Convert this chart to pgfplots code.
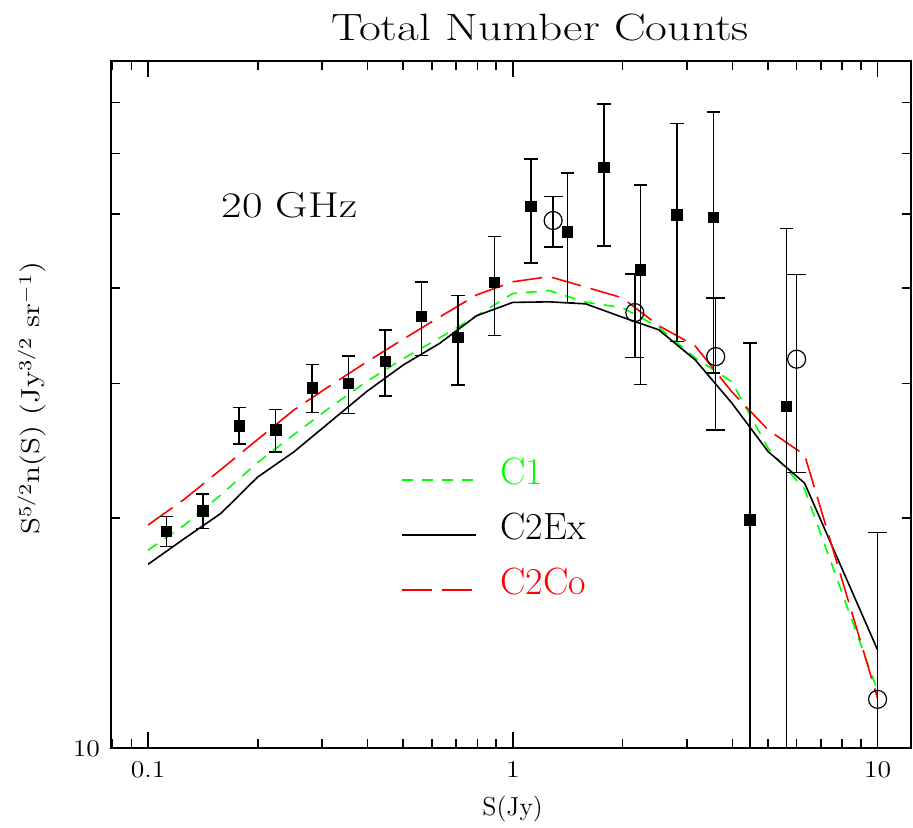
\documentclass[border=0pt]{standalone}
\usepackage{fontspec}
\usepackage{graphicx}
\usepackage{pgfplots}
\pgfplotsset{compat=1.18}
\newcommand{\tl}[1]{\mbox{\fontsize{12}{14}\selectfont\scalebox{1.15}[1]{#1}}}
\pgfplotstableread{
S N ep em
0.1122 19.21 0.89 0.85
0.1413 20.46 1.05 1.08
0.1778 26.42 1.50 1.40
0.2239 26.10 1.68 1.68
0.2818 29.62 2.16 2.12
0.3548 30.01 2.59 2.59
0.4467 32.06 3.22 3.14
0.5623 36.72 4.02 4.06
0.7079 34.46 4.67 4.59
0.8913 40.74 5.99 6.06
1.122 51.16 7.91 8.03
1.413 47.41 9.16 9.10
1.778 57.54 12.10 12.10
2.239 42.27 12.35 12.35
2.818 49.89 15.80 15.80
3.548 49.49 18.50 18.50
4.467 19.90 14.00 14.00
5.623 28.00 19.84 19.84
}\squares
\pgfplotstableread{
S N ep em
1.29 49.05 3.67 3.74
2.16 37.17 4.60 4.72
3.60 32.55 6.27 6.45
6.00 32.30 9.35 9.35
10.0 11.59 7.56 7.56
}\circles
\pgfplotstableread{
S C1 C2Ex C2Co
0.1000 18.17 17.41 19.60
0.1259 19.60 18.82 21.19
0.1585 21.47 20.30 23.17
0.1995 23.64 22.63 25.34
0.2512 25.74 24.43 27.72
0.3162 27.95 26.76 29.84
0.3981 30.21 29.31 32.04
0.5012 32.36 31.75 34.32
0.6310 34.45 33.89 36.69
0.7943 36.78 36.80 39.19
1.0000 39.37 38.33 40.78
1.2589 39.72 38.39 41.42
1.5849 38.34 38.16 40.13
1.9953 37.73 36.66 38.86
2.5119 35.56 35.29 35.73
3.1623 32.43 32.23 33.62
3.9811 30.19 28.32 29.29
5.0119 24.70 24.45 26.10
6.3096 21.82 22.23 24.20
10.000 11.89 13.45 11.63
}\models
\begin{document}
\begin{tikzpicture}
\path[use as bounding box] (-55.5pt,-39.35pt) rectangle (401pt,374.15pt);
\begin{axis}[
  at={(0pt,0pt)}, anchor=south west,
  width=400pt, height=343.8pt, scale only axis,
  xmode=log, ymode=log,
  xmin=0.07915, xmax=12.35, ymin=10, ymax=79.4,
  xtick={0.1,1,10}, xticklabels={\tl{0.1},\tl{1},\tl{10}},
  minor xtick={0.08,0.09,0.2,0.3,0.4,0.5,0.6,0.7,0.8,0.9,2,3,4,5,6,7,8,9},
  ytick={10}, yticklabels={\tl{10}},
  minor ytick={20,30,40,50,60,70},
  tick align=inside,
  major tick length=8pt, minor tick length=4.5pt,
  axis line style={line width=1.1pt},
  every tick/.style={black, line width=0.8pt},
  xticklabel style={yshift=-3pt},
  yticklabel style={xshift=-2pt},
  legend style={draw=none, fill=none, at={(0.362,0.426)}, anchor=north west,
    font=\fontsize{19}{22}\selectfont, inner sep=0pt,
    nodes={inner sep=1pt, text height=13.5pt, text depth=3pt},
    row sep=9pt, column sep=11pt},
  legend cell align=left,
  legend image code/.code={\draw[#1] (0pt,-3pt) -- (37pt,-3pt);},
]
\addplot[green, line width=0.8pt, dash pattern=on 5.5pt off 4.5pt] table[x=S, y=C1] {\models};
\addlegendentry{\textcolor{green}{C1}}
\addplot[black, line width=0.8pt] table[x=S, y=C2Ex] {\models};
\addlegendentry{C2Ex}
\addplot[red, line width=0.8pt, dash pattern=on 15pt off 5pt] table[x=S, y=C2Co] {\models};
\addlegendentry{\textcolor{red}{C2Co}}
\addplot[forget plot, black, only marks, mark=square*, mark size=2.6pt,
  error bars/.cd, y dir=both, y explicit,
  error bar style={line width=0.7pt},
  error mark options={rotate=90, mark size=3.3pt, line width=0.7pt}]
  table[x=S, y=N, y error plus=ep, y error minus=em] {\squares};
\addplot[forget plot, black, only marks, mark=o, mark size=4.5pt,
  mark options={line width=0.6pt, fill=none},
  error bars/.cd, y dir=both, y explicit,
  error bar style={line width=0.7pt},
  error mark options={rotate=90, mark size=4.7pt, line width=0.7pt}]
  table[x=S, y=N, y error plus=ep, y error minus=em] {\circles};
\end{axis}
\node[font=\fontsize{19}{22}\selectfont] at (214.5pt,360.4pt) {\scalebox{1.25}[1]{Total Number Counts}};
\node[font=\fontsize{18}{22}\selectfont] at (89.25pt,271.6pt) {\scalebox{1.24}[1]{20 GHz}};
\node[font=\fontsize{13}{15}\selectfont] at (200.8pt,-30.3pt) {S(Jy)};
\node[rotate=90, font=\fontsize{13}{15}\selectfont] at (-39.5pt,175pt) {\scalebox{1.2}[1]{S$^{5/2}$n(S) (Jy$^{3/2}$ sr$^{-1}$)}};
\end{tikzpicture}
\end{document}
